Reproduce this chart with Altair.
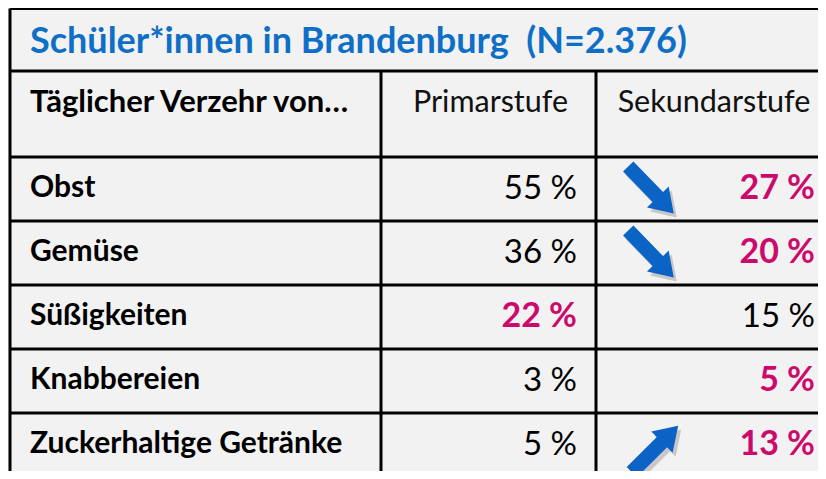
import altair as alt
import pandas as pd

# ---------------- data ----------------
title = "Schüler*innen in Brandenburg\u00a0 (N=2.376)"
header = ["Täglicher Verzehr von…", "Primarstufe", "Sekundarstufe"]
foods = ["Obst", "Gemüse", "Süßigkeiten", "Knabbereien", "Zuckerhaltige Getränke"]
primar = [55, 36, 22, 3, 5]
sekundar = [27, 20, 15, 5, 13]
primar_highlight = [False, False, True, False, False]
sekundar_highlight = [True, True, False, True, True]
trend = ["down", "down", "", "", "up"]

# ---------------- layout ----------------
W, H = 810, 463
LEFT = 2
TOP = 0.5
TITLE_BOTTOM = 63
HEADER_BOTTOM = 149
ROW_H = 64
COL1, COL2 = 373, 588
RIGHT = W + 10
BOTTOM = H + 10
TEXT_X = 22
NUM1_X, NUM2_X = 569, 807
ARROW_X = 643

BLUE = "#0f6fc6"
MAGENTA = "#cc0a6c"
ARROW_BLUE = "#0b63c5"
FONT = "Lato"

n = len(foods)
row_top = [HEADER_BOTTOM + ROW_H * i for i in range(n)]
row_mid = [t + ROW_H / 2 for t in row_top]

# grid lines
lines = []
for y in [TOP, TITLE_BOTTOM, HEADER_BOTTOM] + [HEADER_BOTTOM + ROW_H * i for i in range(1, n)]:
    lines.append(dict(x=LEFT, x2=RIGHT, y=y, y2=y))
lines.append(dict(x=LEFT, x2=LEFT, y=TOP, y2=BOTTOM))
for cx in (COL1, COL2):
    lines.append(dict(x=cx, x2=cx, y=TITLE_BOTTOM, y2=BOTTOM))
lines_df = pd.DataFrame(lines)

xs = alt.Scale(domain=[0, W])
ys = alt.Scale(domain=[0, H], reverse=True)


def X(f):
    return alt.X(f, type="quantitative", scale=xs, axis=None)


def Y(f):
    return alt.Y(f, type="quantitative", scale=ys, axis=None)


rules = alt.Chart(lines_df).mark_rule(color="black", strokeWidth=3).encode(
    x=X("x"), x2="x2", y=Y("y"), y2="y2"
)

title_df = pd.DataFrame([dict(t=title, x=TEXT_X, y=(TOP + TITLE_BOTTOM) / 2 + 2)])
title_layer = alt.Chart(title_df).mark_text(
    align="left", baseline="middle", font=FONT, fontSize=36, fontWeight="bold", color=BLUE
).encode(x=X("x"), y=Y("y"), text="t:N")

head_y = 95
head_df = pd.DataFrame([dict(t=header[0], x=TEXT_X, y=head_y)])
head_bold = alt.Chart(head_df).mark_text(
    align="left", baseline="middle", font=FONT, fontSize=31, fontWeight="bold", color="black"
).encode(x=X("x"), y=Y("y"), text="t:N")

head2_df = pd.DataFrame([
    dict(t=header[1], x=(COL1 + COL2) / 2 + 2, y=head_y),
    dict(t=header[2], x=(COL2 + 826) / 2 - 1, y=head_y),
])
head_norm = alt.Chart(head2_df).mark_text(
    align="center", baseline="middle", font=FONT, fontSize=30.5, fontWeight="normal", color="#111111"
).encode(x=X("x"), y=Y("y"), text="t:N")

labels_df = pd.DataFrame(dict(t=foods, x=[TEXT_X] * n, y=[m - 1 for m in row_mid]))
labels = alt.Chart(labels_df).mark_text(
    align="left", baseline="middle", font=FONT, fontSize=30, fontWeight="bold", color="black"
).encode(x=X("x"), y=Y("y"), text="t:N")

vals = []
for i in range(n):
    vals.append(dict(t=f"{primar[i]} %", x=NUM1_X, y=row_mid[i], hl=primar_highlight[i]))
    vals.append(dict(t=f"{sekundar[i]} %", x=NUM2_X, y=row_mid[i], hl=sekundar_highlight[i]))
vals_df = pd.DataFrame(vals)

vals_plain = alt.Chart(vals_df[~vals_df.hl]).mark_text(
    align="right", baseline="middle", font=FONT, fontSize=33, fontWeight="normal", color="black"
).encode(x=X("x"), y=Y("y"), text="t:N")
vals_hl = alt.Chart(vals_df[vals_df.hl]).mark_text(
    align="right", baseline="middle", font=FONT, fontSize=34, fontWeight="bold", color=MAGENTA
).encode(x=X("x"), y=Y("y"), text="t:N")

ARROW = "M-1,-0.22L0.3,-0.22L0.3,-0.46L1,0L0.3,0.46L0.3,0.22L-1,0.22Z"
arr = []
for i in range(n):
    if trend[i] == "down":
        arr.append(dict(x=ARROW_X, y=row_mid[i] + 1, ang=46))
    elif trend[i] == "up":
        arr.append(dict(x=ARROW_X + 4, y=row_mid[i] + 4, ang=315))
arr_df = pd.DataFrame(arr)
arr_df["sx"] = arr_df.x + 3
arr_df["sy"] = arr_df.y + 4

shadow = alt.Chart(arr_df).mark_point(
    shape=ARROW, filled=True, size=4300, color="#333333", opacity=0.22, strokeWidth=0
).encode(x=X("sx"), y=Y("sy"), angle=alt.Angle("ang:Q", scale=None))
arrows = alt.Chart(arr_df).mark_point(
    shape=ARROW, filled=True, size=4300, color=ARROW_BLUE, opacity=1, strokeWidth=0
).encode(x=X("x"), y=Y("y"), angle=alt.Angle("ang:Q", scale=None))

chart = alt.layer(
    shadow, arrows, rules, title_layer, head_bold, head_norm, labels, vals_plain, vals_hl
).properties(
    width=W, height=H, padding=0,
    autosize=alt.AutoSizeParams(type="none"),
    background="#f2f2f2",
).configure_view(stroke=None)

chart.save("out.html", embed_options={"renderer": "svg", "actions": False})
